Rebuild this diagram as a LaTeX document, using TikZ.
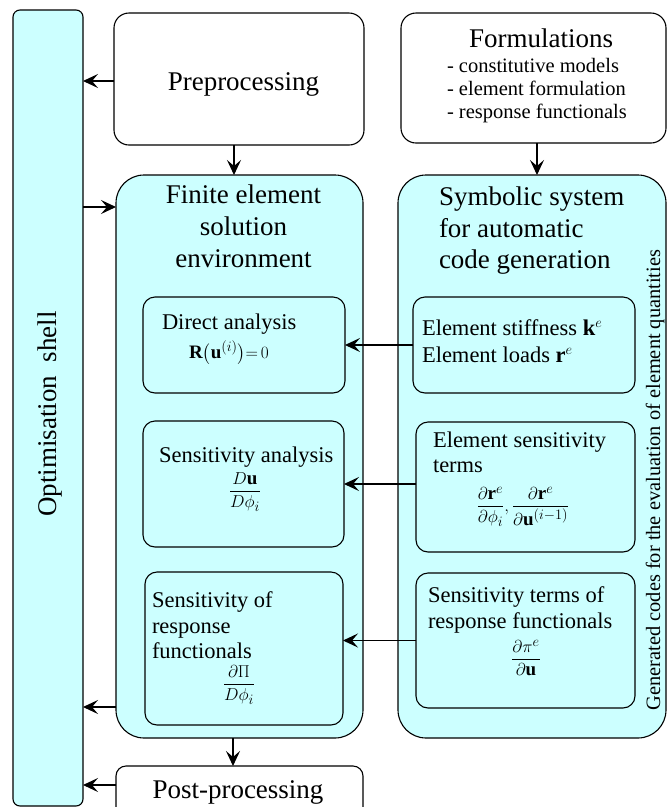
\documentclass[tikz,border=0pt]{standalone}
\usepackage{amsmath}
\usepackage{fontspec}
\setmainfont{Liberation Serif}
\usetikzlibrary{arrows.meta}
\definecolor{lc}{RGB}{204,255,255}
\newcommand\fsT{\fontsize{27}{32}\selectfont}
\newcommand\fsI{\fontsize{22.5}{26}\selectfont}
\newcommand\fsL{\fontsize{20.5}{23}\selectfont}
\newcommand\fsM{\fontsize{19}{22}\selectfont}
\begin{document}
\begin{tikzpicture}[x=1pt,y=-1pt,
 box/.style={draw, line width=1.1pt, inner sep=0pt, outer sep=0pt, fill=white},
 cbox/.style={box, fill=lc},
 arr/.style={line width=1.1pt, -{Stealth[length=15pt,width=14pt,inset=6pt]}},
 txt/.style={inner sep=0pt, outer sep=0pt},
]
\useasboundingbox (0,0) rectangle (667,807);
\clip (0,0) rectangle (667,807);
\fill[white] (0,0) rectangle (667,807);

% outer boxes
\node[cbox, rounded corners=7pt, minimum width=70pt, minimum height=796pt] (opt) at (48,408) {};
\node[box, rounded corners=15pt, minimum width=250pt, minimum height=132pt] (pre) at (239,79) {};
\node[box, rounded corners=15pt, minimum width=265pt, minimum height=130pt] (form) at (533.5,78) {};
\node[cbox, rounded corners=28pt, minimum width=247pt, minimum height=563pt] (fe) at (239.5,456.5) {};
\node[cbox, rounded corners=28pt, minimum width=268pt, minimum height=563pt] (sym) at (532,456.5) {};
\node[box, rounded corners=10pt, minimum width=247pt, minimum height=64pt] (post) at (239.5,798) {};

% inner boxes
\node[cbox, rounded corners=12pt, minimum width=202pt, minimum height=96pt] (da) at (244,345) {};
\node[cbox, rounded corners=12pt, minimum width=201pt, minimum height=126pt] (sa) at (243.5,484) {};
\node[cbox, rounded corners=12pt, minimum width=198pt, minimum height=153pt] (sr) at (244,648.5) {};
\node[cbox, rounded corners=12pt, minimum width=222pt, minimum height=96pt] (es) at (524,345) {};
\node[cbox, rounded corners=12pt, minimum width=219pt, minimum height=130pt] (est) at (525.5,487) {};
\node[cbox, rounded corners=12pt, minimum width=219pt, minimum height=135pt] (str) at (525.5,640.5) {};

% connectors
\coordinate (y81) at (0,81);
\coordinate (x234) at (234,0);
\coordinate (x537) at (537,0);
\coordinate (y207) at (0,207);
\coordinate (y707) at (0,707);
\coordinate (x233) at (233,0);
\coordinate (y785) at (0,785);
\draw[arr] (y81 -| pre.west) -- (y81 -| opt.east);
\draw[arr] (x234 |- pre.south) -- (x234 |- fe.north);
\draw[arr] (x537 |- form.south) -- (x537 |- sym.north);
\draw[arr] (y207 -| opt.east) -- (y207 -| fe.west);
\draw[arr] (es.west) -- (da.east);
\draw[arr] (sa.east -| est.west) -- (sa.east);
\draw[arr] (str.west) -- (str.west -| sr.east);
\draw[arr] (y707 -| fe.west) -- (y707 -| opt.east);
\draw[arr] (x233 |- fe.south) -- (x233 |- post.north);
\draw[arr] (y785 -| post.west) -- (y785 -| opt.east);

% texts
\node[txt, rotate=90] (topt) at (50,414) {\fsT Optimisation\ \ shell};
\node[txt, anchor=base] (tpre) at (243.5,90) {\fsT Preprocessing};
\node[txt, anchor=base] (tform) at (541,47) {\fsT Formulations};
\node[txt, anchor=base west] (tf1) at (447,72.5) {\fsL - constitutive models};
\node[txt, anchor=base west] (tf2) at (447,95.5) {\fsL - element formulation};
\node[txt, anchor=base west] (tf3) at (447,118.5) {\fsL - response functionals};
\node[txt, anchor=base] (tpost) at (238,798) {\fsT Post-processing};

\node[txt, anchor=base] (tfe1) at (243.5,203) {\fsT Finite element};
\node[txt, anchor=base] (tfe2) at (243.5,235) {\fsT solution};
\node[txt, anchor=base] (tfe3) at (243.5,267) {\fsT environment};

\node[txt, anchor=base west] (tsy1) at (439,205) {\fsT Symbolic system};
\node[txt, anchor=base west] (tsy2) at (439,237) {\fsT for automatic};
\node[txt, anchor=base west] (tsy3) at (439,268) {\fsT code generation};

\node[txt, rotate=90] (tgen) at (655,480) {\fontsize{20.4}{23}\selectfont Generated codes for the evaluation of element quantities};

\node[txt, anchor=base west] (tda) at (162,329) {\fsI Direct analysis};
\node[txt, anchor=base] (fda) at (229,358) {\fsM $\mathbf{R}\bigl(\mathbf{u}^{(i)}\bigr){=}\,0$};

\node[txt, anchor=base west] (tsa) at (159,462) {\fsI Sensitivity analysis};
\node[txt, anchor=base] (fsa) at (245,496) {\fsM $\dfrac{D\mathbf{u}}{D\phi_i}$};

\node[txt, anchor=base west] (tsr1) at (152,607) {\fsI Sensitivity of};
\node[txt, anchor=base west] (tsr2) at (152,633) {\fsI response};
\node[txt, anchor=base west] (tsr3) at (152,658) {\fsI functionals};
\node[txt, anchor=base] (fsr) at (239,689) {\fsM $\dfrac{\partial\Pi}{D\phi_i}$};

\node[txt, anchor=base west] (tes1) at (422,335) {\fsI Element stiffness \textbf{k}$^{e}$};
\node[txt, anchor=base west] (tes2) at (422,362) {\fsI Element loads \textbf{r}$^{e}$};

\node[txt, anchor=base west] (test1) at (433,447) {\fsI Element sensitivity};
\node[txt, anchor=base west] (test2) at (433,472) {\fsI terms};
\node[txt, anchor=base] (fest) at (523,511) {\fsM $\dfrac{\partial\mathbf{r}^{e}}{\partial\phi_i},\dfrac{\partial\mathbf{r}^{e}}{\partial\mathbf{u}^{(i-1)}}$};

\node[txt, anchor=base west] (tstr1) at (428,602) {\fsI Sensitivity terms of};
\node[txt, anchor=base west] (tstr2) at (428,628) {\fsI response functionals};
\node[txt, anchor=base] (fstr) at (526,664) {\fsM $\dfrac{\partial\pi^{e}}{\partial\mathbf{u}}$};
\end{tikzpicture}
\end{document}
